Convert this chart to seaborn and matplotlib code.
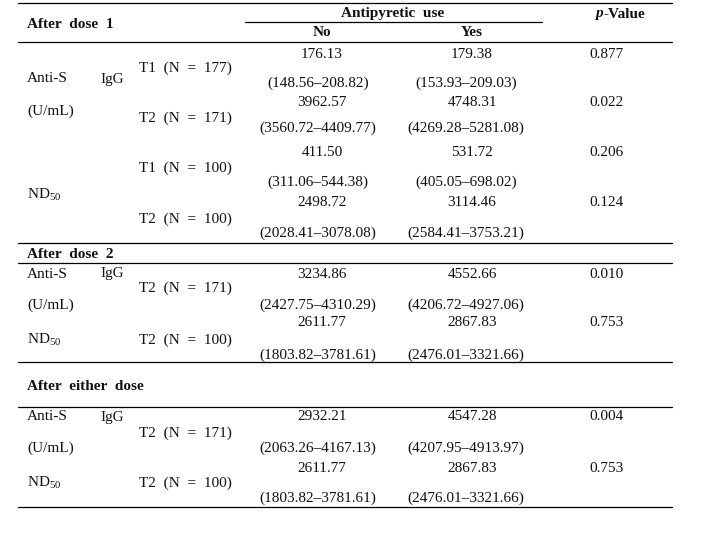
import matplotlib
matplotlib.use("Agg")
import matplotlib.pyplot as plt
import seaborn as sns

# Table data
sections = ["After  dose  1", "After  dose  2", "After  either  dose"]
time_labels = ["T1  (N  =  177)", "T2  (N  =  171)", "T1  (N  =  100)", "T2  (N  =  100)",
               "T2  (N  =  171)", "T2  (N  =  100)",
               "T2  (N  =  171)", "T2  (N  =  100)"]
no_median = ["176.13", "3962.57", "411.50", "2498.72", "3234.86", "2611.77", "2932.21", "2611.77"]
no_ci = ["(148.56–208.82)", "(3560.72–4409.77)", "(311.06–544.38)", "(2028.41–3078.08)",
         "(2427.75–4310.29)", "(1803.82–3781.61)", "(2063.26–4167.13)", "(1803.82–3781.61)"]
yes_median = ["179.38", "4748.31", "531.72", "3114.46", "4552.66", "2867.83", "4547.28", "2867.83"]
yes_ci = ["(153.93–209.03)", "(4269.28–5281.08)", "(405.05–698.02)", "(2584.41–3753.21)",
          "(4206.72–4927.06)", "(2476.01–3321.66)", "(4207.95–4913.97)", "(2476.01–3321.66)"]
p_values = ["0.877", "0.022", "0.206", "0.124", "0.010", "0.753", "0.004", "0.753"]

# layout (pixel rows, from the top)
val_y = [54, 103, 153, 203, 274, 323, 417, 468]
ci_y = [83, 128, 182, 233, 305, 355, 448, 498]
t_y = [68, 118, 168, 219, 288, 340, 433, 483]
section_y = [25, 254, 387]
rule_y = [3, 42, 243, 263, 362, 407, 507]
measure_labels = [("Anti-S", 79, "IgG"), ("(U/mL)", 111, None), ("ND$_{50}$", 195, None),
                  ("Anti-S", 274, "IgG"), ("(U/mL)", 305, None), ("ND$_{50}$", 340, None),
                  ("Anti-S", 417, "IgG"), ("(U/mL)", 448, None), ("ND$_{50}$", 483, None)]

sns.set_theme(style="white")
plt.rcParams["font.family"] = ["Liberation Serif", "DejaVu Serif"]
plt.rcParams["mathtext.fontset"] = "custom"
plt.rcParams["mathtext.rm"] = "Liberation Serif"

fig = plt.figure(figsize=(7.18, 5.46), dpi=100)
ax = fig.add_axes([0, 0, 1, 1])
ax.set_xlim(0, 718)
ax.set_ylim(546, 0)
ax.axis("off")

fs = 11
col = "#111111"

# rules
for y in rule_y:
    ax.plot([18, 672], [y, y], color="black", lw=0.9)
ax.plot([245, 542], [22, 22], color="black", lw=0.9)

# header
ax.text(393, 13, "Antipyretic  use", ha="center", va="center", fontsize=fs, fontweight="bold", color=col)
ax.text(322, 33, "No", ha="center", va="center", fontsize=fs, fontweight="bold", color=col)
ax.text(472, 33, "Yes", ha="center", va="center", fontsize=fs, fontweight="bold", color=col)
ax.text(603, 14, "p", ha="right", va="center", fontsize=fs, fontweight="bold", fontstyle="italic", color=col)
ax.text(604, 14, "-Value", ha="left", va="center", fontsize=fs, fontweight="bold", color=col)

for s, y in zip(sections, section_y):
    ax.text(27, y, s, ha="left", va="center", fontsize=fs, fontweight="bold", color=col)

for lab, y, sub in measure_labels:
    ax.text(27, y, lab, ha="left", va="center", fontsize=fs, color=col)
    if sub:
        ax.text(100, y, sub, ha="left", va="center", fontsize=fs, color=col)

for i in range(len(p_values)):
    ax.text(139, t_y[i], time_labels[i], ha="left", va="center", fontsize=fs, color=col)
    ax.text(322, val_y[i], no_median[i], ha="center", va="center", fontsize=fs, color=col)
    ax.text(318, ci_y[i], no_ci[i], ha="center", va="center", fontsize=fs, color=col)
    ax.text(472, val_y[i], yes_median[i], ha="center", va="center", fontsize=fs, color=col)
    ax.text(466, ci_y[i], yes_ci[i], ha="center", va="center", fontsize=fs, color=col)
    ax.text(607, val_y[i], p_values[i], ha="center", va="center", fontsize=fs, color=col)

fig.savefig("out.png", dpi=100, facecolor="white")
